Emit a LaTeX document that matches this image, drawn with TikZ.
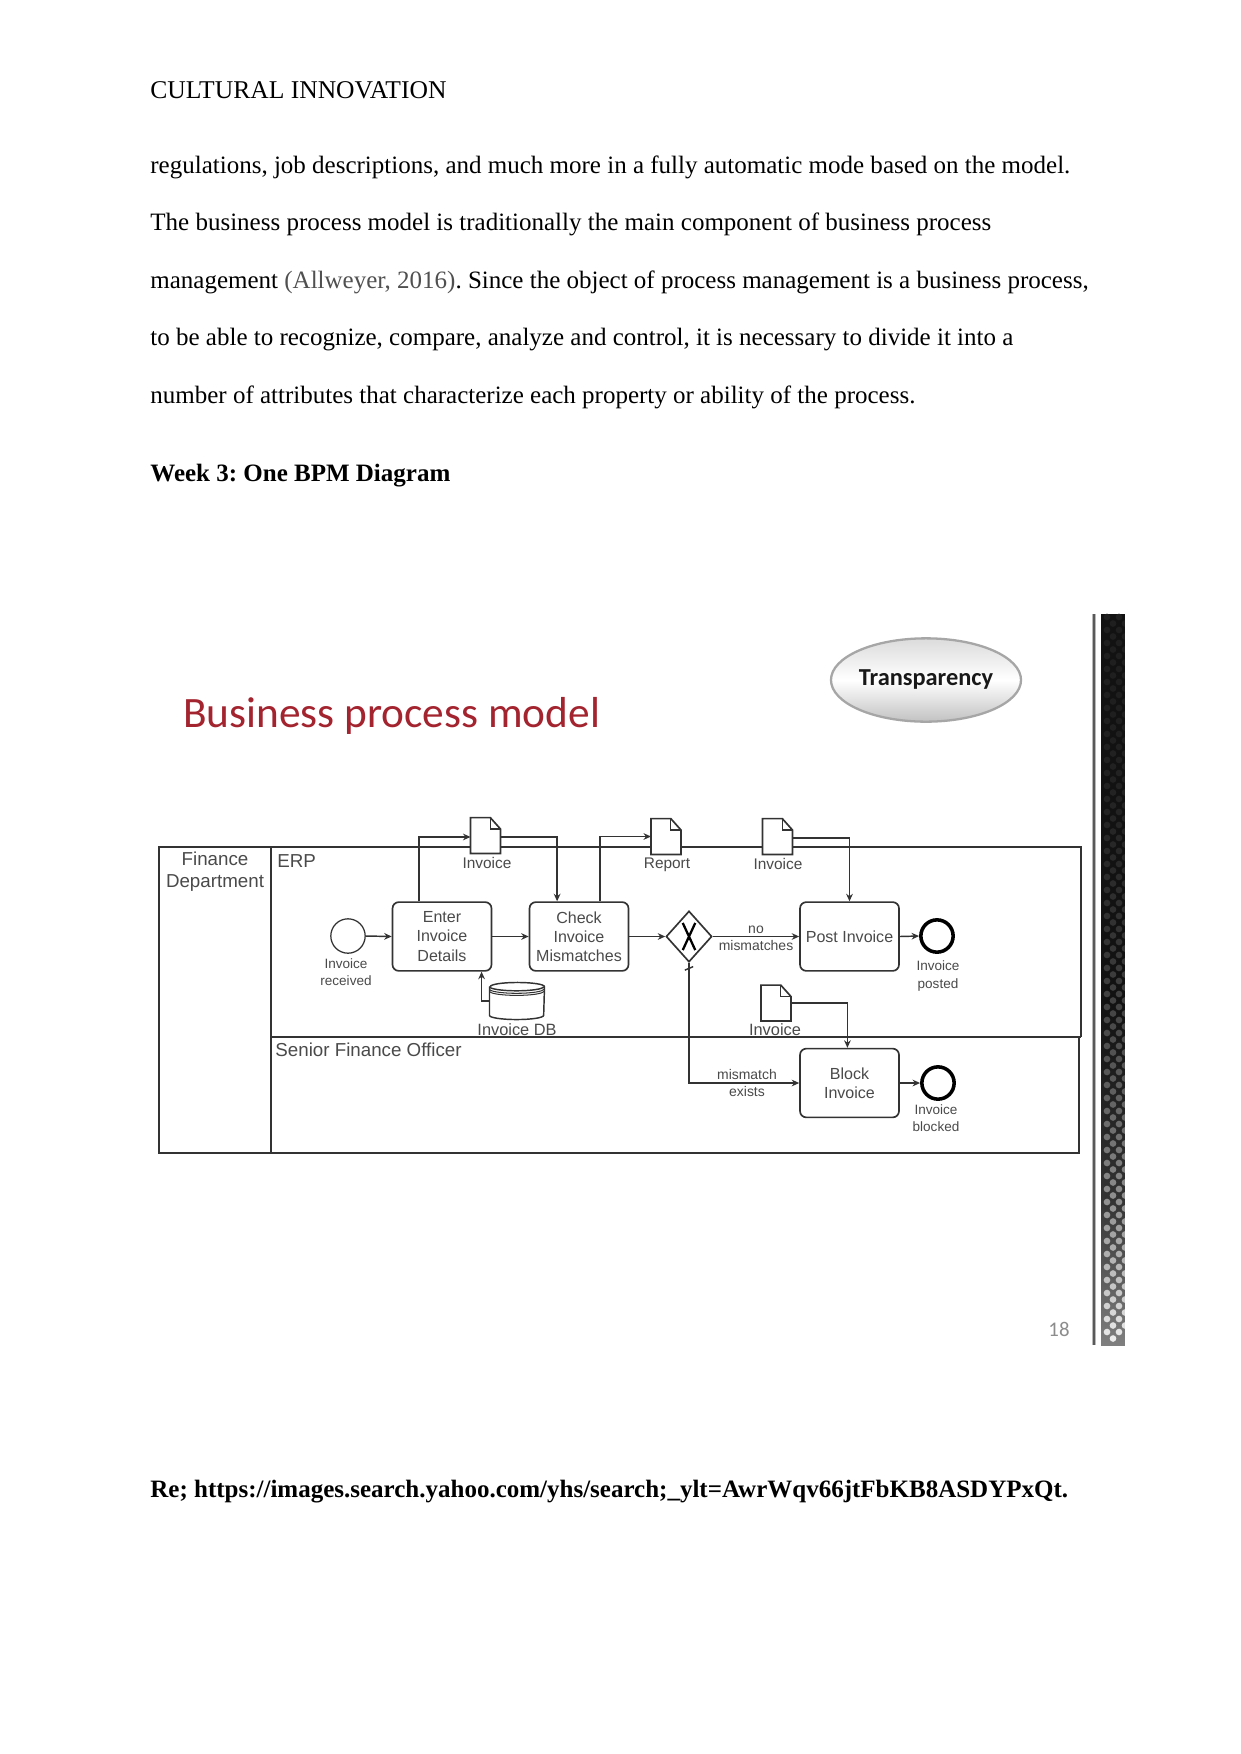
\documentclass[tikz,border=0pt]{standalone}
\usepackage{fontspec}
\setmainfont{Liberation Serif}
\setsansfont{Liberation Sans}
\newfontfamily\carlito{Carlito}
\usetikzlibrary{arrows.meta,shapes.geometric}
\definecolor{ink}{HTML}{333333}
\definecolor{lbl}{HTML}{4A4A4A}
\definecolor{titlered}{HTML}{A3242F}
\tikzset{
  body/.style={anchor=base west,inner sep=0pt,font=\fontsize{12}{14}\selectfont\frenchspacing},
  bodyb/.style={body,font=\fontsize{12}{14}\selectfont\bfseries\frenchspacing},
  lane/.style={draw=ink,line width=.7pt},
  task/.style={draw=ink,line width=.8pt,fill=white,rounded corners=3pt,inner sep=0pt,minimum width=47.5pt,minimum height=33pt,align=center,text=lbl,font=\sffamily\fontsize{7.7}{9.2}\selectfont},
  startev/.style={circle,draw=ink,line width=.6pt,fill=white,minimum size=16.5pt,inner sep=0pt},
  endev/.style={circle,draw=black,line width=1.7pt,fill=white,minimum size=15.5pt,inner sep=0pt},
  gate/.style={diamond,draw=ink,line width=.8pt,fill=white,minimum width=22pt,minimum height=24.5pt,inner sep=0pt,aspect=.9},
  flow/.style={draw=ink,line width=.7pt,-{Stealth[length=3.6pt,width=3.2pt]}},
  plain/.style={draw=ink,line width=.7pt},
  doclabel/.style={inner sep=0pt,anchor=base,text=lbl,font=\sffamily\fontsize{7.4}{9}\selectfont},
  doclabelb/.style={doclabel,font=\sffamily\fontsize{7.85}{9}\selectfont},
  smalllabel/.style={inner sep=0pt,align=center,text=lbl,font=\sffamily\fontsize{6.5}{7.9}\selectfont},
  lanelabel/.style={inner sep=0pt,anchor=base west,text=lbl,font=\sffamily\fontsize{9}{10}\selectfont},
  docbox/.style={inner sep=0pt,minimum width=14pt,minimum height=16.8pt},
  dbbox/.style={inner sep=0pt,minimum width=26pt,minimum height=13.4pt},
}
% named document symbol, centred on (x,y) in picture units
\newcommand{\docsym}[3]{%
  \node[docbox] (#1) at (#2,#3) {};
  \draw[draw=ink,line width=.8pt,fill=white]
    (#1.north west) -- ([xshift=9.5pt]#1.north west) -- ([yshift=-5.5pt]#1.north east)
    -- (#1.south east) -- (#1.south west) -- cycle;
  \draw[draw=ink,line width=.6pt]
    ([xshift=9.5pt]#1.north west) -- ([xshift=9.5pt,yshift=-5.5pt]#1.north west) -- ([yshift=-5.5pt]#1.north east);
}
\begin{document}
\begin{tikzpicture}[x=0.48pt,y=-0.48pt]
\useasboundingbox (0,0) rectangle (1241,1754);
\fill[white] (0,0) rectangle (1241,1754);

% page text
\node[body,font=\fontsize{12.27}{14}\selectfont] (hdr) at (150,98) {CULTURAL INNOVATION};
\node[body] (l1) at (150,173) {regulations, job descriptions, and much more in a fully automatic mode based on the model.};
\node[body] (l2) at (150,230) {The business process model is traditionally the main component of business process};
\node[body] (l3) at (150,288) {management {\color[HTML]{505050}(Allweyer, 2016)}. Since the object of process management is a business process,};
\node[body] (l4) at (150,345) {to be able to recognize, compare, analyze and control, it is necessary to divide it into a};
\node[body] (l5) at (150,403) {number of attributes that characterize each property or ability of the process.};
\node[bodyb] (h1) at (150,481) {Week 3: One BPM Diagram};
\node[bodyb] (ref) at (150,1497) {Re; https://images.search.yahoo.com/yhs/search;\_ylt=AwrWqv66jtFbKB8ASDYPxQt.};

% slide title and badge
\node[inner sep=0pt,anchor=base west,text=titlered,font=\carlito\fontsize{20.8}{24}\selectfont] (title) at (183,727) {Business process model};
\node[ellipse,draw=black!35,line width=1.1pt,top color=black!14,bottom color=black!24,middle color=white,minimum width=90pt,minimum height=40pt,inner sep=0pt,font=\carlito\bfseries\fontsize{11.7}{13}\selectfont,text=black!90] (badge) at (926,680) {Transparency};
\node[inner sep=0pt,text=black!45,font=\carlito\fontsize{10}{12}\selectfont] (pg) at (1059,1329) {18};

% right decoration
\fill[black!28] (1092,614) rectangle (1096,1345);
\fill[black!65] (1093.2,614) rectangle (1094.8,1345);
\fill[black!93] (1101,614) rectangle (1125,1000);
\shade[top color=black!93,bottom color=black!80] (1101,1000) rectangle (1125,1200);
\shade[top color=black!80,bottom color=black!50] (1101,1200) rectangle (1125,1345);
\foreach \i in {0,...,111} {
  \pgfmathsetmacro{\yy}{617+\i*6.5}
  \pgfmathsetmacro{\pp}{max(0,min(92,12+80*pow(\i/111,2.75)))}
  \pgfmathsetmacro{\xa}{mod(\i,2)==0 ? 1107 : 1113}
  \pgfmathsetmacro{\xb}{mod(\i,2)==0 ? 1119 : 1125}
  \fill[white!\pp!black] (\xa,\yy) circle (1.6pt);
  \ifnum\i<111 \fill[white!\pp!black] (\xb,\yy) circle (1.6pt);\fi
}
\fill[white] (1125,605) rectangle (1135,1355);

% swimlanes
\draw[lane] (1079,1037) -- (1079,1153) -- (159,1153) -- (159,847) -- (1081,847) -- (1081,1037);
\draw[lane] (271,847) -- (271,1153);
\draw[lane] (271,1037) -- (1081,1037);
\node[inner sep=0pt,anchor=base,text=lbl,font=\sffamily\fontsize{9}{10}\selectfont] (lf1) at (215,865) {Finance};
\node[inner sep=0pt,anchor=base,text=lbl,font=\sffamily\fontsize{9}{10}\selectfont] (lf2) at (215,887) {Department};
\node[lanelabel] (lerp) at (277,867) {ERP};
\node[lanelabel] (lsfo) at (275,1056) {Senior Finance Officer};

% flow objects
\node[startev] (start) at (348,936) {};
\node[task] (enter) at (442,936.5) {Enter\\Invoice\\Details};
\node[task] (check) at (579,936.5) {Check\\Invoice\\Mismatches};
\node[gate] (gw) at (689,936.5) {};
\draw[draw=black,line width=1.1pt] ([xshift=-3pt,yshift=6.5pt]gw.center) -- ([xshift=3pt,yshift=-6.5pt]gw.center)
  ([xshift=-3pt,yshift=-6.5pt]gw.center) -- ([xshift=3pt,yshift=6.5pt]gw.center);
\node[task] (post) at (849.5,936.5) {Post Invoice};
\node[task] (block) at (849.5,1083) {Block\\Invoice};
\node[endev] (endp) at (937,936) {};
\node[endev] (endb) at (938,1083) {};
\docsym{doc1}{485.5}{835.5}
\docsym{doc2}{666}{836.5}
\docsym{doc3}{777.5}{836.5}
\docsym{doc4}{776}{1003}
% data store
\node[dbbox] (db) at (517,1001) {};
\draw[draw=ink,line width=.7pt,fill=white] (db.north west) -- (db.south west)
  arc[x radius=13pt,y radius=2pt,start angle=180,end angle=360] -- (db.north east)
  arc[x radius=13pt,y radius=2pt,start angle=0,end angle=180];
\draw[draw=ink,line width=.7pt] (db.north west)
  arc[x radius=13pt,y radius=2pt,start angle=180,end angle=360];
\draw[draw=ink,line width=.5pt] ([yshift=-1.2pt]db.north west)
  arc[x radius=13pt,y radius=2pt,start angle=180,end angle=360];
\draw[draw=ink,line width=.5pt] ([yshift=-2.2pt]db.north west)
  arc[x radius=13pt,y radius=2pt,start angle=180,end angle=360];

% connectors
\draw[flow] (start.east) -- (enter.west);
\draw[flow] (enter.east) -- (check.west);
\draw[flow] (check.east) -- (gw.west);
\draw[flow] (gw.east) -- (post.west);
\draw[flow] (post.east) -- (endp.west);
\draw[flow] (block.east) -- (endb.west);
\draw[flow] ([xshift=-11pt]enter.north) |- ([yshift=-.7pt]doc1.west);
\draw[flow] ([yshift=-.7pt]doc1.east) -| ([xshift=-10.5pt]check.north);
\draw[flow] ([xshift=10pt]check.north) |- (doc2.west);
\draw[flow] ([yshift=-.7pt]doc3.east) -| (post.north);
\draw[flow] (doc4.east) -| ([xshift=-1pt]block.north);
\draw[flow] (db.west) -| ([xshift=19pt]enter.south);
\draw[flow] (gw.south) |- (block.west);
\draw[plain] ([xshift=-2pt,yshift=-3.5pt]gw.south) -- ([xshift=2pt,yshift=-1.8pt]gw.south);

% labels
\node[doclabel] (t1) at (487,868) {Invoice};
\node[doclabel] (t2) at (667,868) {Report};
\node[doclabel] (t3) at (778,869) {Invoice};
\node[doclabelb] (t4) at (775,1035) {Invoice};
\node[doclabelb] (t5) at (517,1035) {Invoice DB};
\node[smalllabel] (t6) at (346,972) {Invoice\\received};
\node[smalllabel,font=\sffamily\fontsize{6.5}{8.5}\selectfont] (t7) at (938,976) {Invoice\\posted};
\node[smalllabel] (t8) at (936,1118) {Invoice\\blocked};
\node[smalllabel,font=\sffamily\fontsize{6.7}{8.3}\selectfont] (t9) at (756,938.5) {no\\mismatches};
\node[smalllabel,font=\sffamily\fontsize{6.7}{8.3}\selectfont] (t10) at (747,1083) {mismatch\\exists};
\end{tikzpicture}
\end{document}
